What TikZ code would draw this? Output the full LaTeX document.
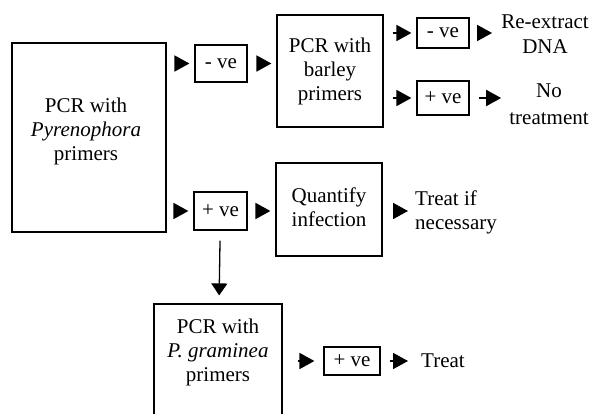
\documentclass[tikz,border=0pt]{standalone}
\usepackage{fontspec}
\setmainfont{Liberation Serif}
\usetikzlibrary{arrows.meta}
\begin{document}
\begin{tikzpicture}[x=1pt,y=-1pt,
  box/.style={draw, line width=1.2pt, inner sep=0pt, align=center},
  txt/.style={inner sep=0pt, align=center},
  arr/.style={-{Triangle[length=15pt,width=16pt]}, line width=1.8pt, shorten <=9pt, shorten >=5pt},
  varr/.style={-{Triangle[length=12pt,width=16pt]}, line width=1.3pt, shorten <=10pt, shorten >=8pt},
  font=\fontsize{21}{24}\selectfont]
\useasboundingbox (0,0) rectangle (594,414);
\fill[white] (0,0) rectangle (594,414);
% main box
\node[box, minimum width=154pt, minimum height=189pt] (pyr) at (89,137.5) {};
\node[txt] (pyrtxt) at (86,131) {PCR with\\\textit{Pyrenophora}\\primers};
% -ve first
\node[box, minimum width=52pt, minimum height=37pt] (neg1) at (221,63.5) {- ve};
% barley box
\node[box, minimum width=106pt, minimum height=112pt] (barley) at (330,71) {PCR with\\barley\\primers};
% -ve / +ve right
\node[box, minimum width=52pt, minimum height=30pt] (neg2) at (443,33) {- ve};
\node[box, minimum width=52pt, minimum height=34pt] (pos1) at (443,98) {+ ve};
\node[txt, font=\fontsize{21}{25}\selectfont] (reex) at (545,34) {Re-extract\\DNA};
\node[txt, font=\fontsize{21}{27}\selectfont] (notr) at (549,104) {No\\treatment};
% middle row
\node[box, minimum width=53pt, minimum height=38pt] (pos2) at (220.5,211) {+ ve};
\node[box, minimum width=106pt, minimum height=93pt] (quant) at (329,209.5) {};
\node[txt] (quanttxt) at (329,207) {Quantify\\infection};
\node[txt, anchor=west, align=left] (treatif) at (415,212) {Treat if\\necessary};
% bottom
\node[box, minimum width=128pt, minimum height=124pt] (gram) at (218,366) {};
\node[txt] (gramtxt) at (218,352) {PCR with\\\textit{P. graminea}\\primers};
\node[box, minimum width=56pt, minimum height=28pt] (pos3) at (352,361) {+ ve};
\node[txt, anchor=west] (treat) at (421,361) {Treat};
% arrows
\draw[arr] (pyr.east |- neg1) -- (neg1);
\draw[arr] (neg1) -- (barley.west |- neg1);
\draw[arr] (barley.east |- neg2) -- (neg2);
\draw[arr, shorten >=9pt] (neg2) -- (reex.west |- neg2);
\draw[arr] (barley.east |- pos1) -- (pos1);
\draw[arr, shorten >=8pt] (pos1) -- (notr.west |- pos1);
\draw[arr] (pyr.east |- pos2) -- (pos2);
\draw[arr] (pos2) -- (quant.west |- pos2);
\draw[arr, shorten <=10pt, shorten >=7pt] (quant.east |- pos2) -- (treatif.west |- pos2);
\draw[varr] (pos2) -- (gram);
\draw[arr, shorten <=15pt, shorten >=9pt] (gram.east |- pos3) -- (pos3);
\draw[arr, shorten >=13pt] (pos3) -- (treat);
\end{tikzpicture}
\end{document}
